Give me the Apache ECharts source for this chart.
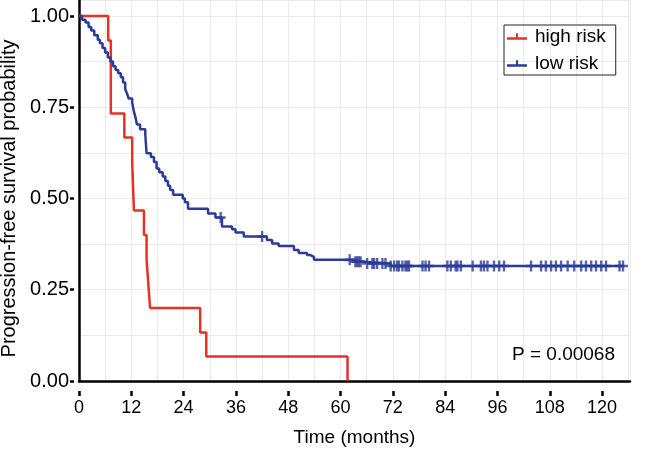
<!DOCTYPE html>
<html><head><meta charset="utf-8">
<script src="https://cdn.jsdelivr.net/npm/echarts@6/dist/echarts.min.js"></script>
<style>html,body{margin:0;padding:0;background:#fff}#c{width:646px;height:452px}</style>
</head><body><div id="c"></div>
<script>
// ---- data ----
const xTicks = [0, 12, 24, 36, 48, 60, 72, 84, 96, 108, 120];
const yTicks = [0, 0.25, 0.5, 0.75, 1];
const seriesNames = ['high risk', 'low risk'];
const pValueText = 'P = 0.00068';

// [time (months), survival probability]
const highRisk = [
  [0, 1], [6.7, 0.933], [7.3, 0.733], [10.4, 0.667], [12.2, 0.6], [12.6, 0.467],
  [14.9, 0.4], [15.5, 0.333], [15.9, 0.267], [16.3, 0.2], [27.8, 0.133],
  [29.2, 0.067], [61.6, 0]
];
const lowRisk = [
  [0, 1], [0.7, 0.99], [1.5, 0.982], [2.2, 0.97], [2.8, 0.96], [3.5, 0.947],
  [4.3, 0.935], [4.8, 0.925], [5.4, 0.912], [6.0, 0.9], [6.6, 0.886], [7.2, 0.875],
  [7.8, 0.862], [8.4, 0.852], [9.0, 0.843], [9.6, 0.832], [10.1, 0.818], [10.6, 0.8],
  [11.0, 0.788], [11.4, 0.774], [12.2, 0.762], [12.6, 0.738], [13.0, 0.72], [13.3, 0.703],
  [14.0, 0.69], [15.2, 0.676], [15.5, 0.624], [16.5, 0.614], [17.2, 0.6], [17.8, 0.582],
  [18.4, 0.572], [19.2, 0.56], [19.8, 0.548], [20.4, 0.535], [20.9, 0.523], [21.6, 0.51],
  [23.8, 0.5], [24.3, 0.49], [25.0, 0.472], [29.6, 0.459], [31.3, 0.448], [32.8, 0.423],
  [35.1, 0.416], [35.9, 0.407], [37.8, 0.396], [43.1, 0.386], [44.3, 0.377], [45.8, 0.37],
  [49.3, 0.359], [50.4, 0.351], [52.3, 0.345], [53.1, 0.34], [53.9, 0.332], [62.9, 0.327],
  [64.8, 0.322], [71.5, 0.315], [124.8, 0.315]
];
const lowRiskCensored = [
  32.5, 42.0, 62.1, 63.4, 63.8, 64.2, 64.6, 66.1, 67.3, 67.7, 68.4, 69.6, 70.3, 71.5,
  72.3, 73.0, 73.4, 74.2, 74.9, 75.3, 75.7, 78.8, 79.5, 80.3, 84.5, 85.3, 86.4, 86.8,
  87.6, 90.3, 92.2, 92.9, 93.7, 95.2, 96.4, 97.5, 103.7, 106.0, 107.1, 108.3, 109.4,
  110.6, 112.1, 113.6, 115.2, 116.3, 117.5, 118.6, 119.8, 120.9, 124.0, 124.8
];

// ---- chart ----
const RED = '#e53227', BLUE = '#2b3b99';
const FONT = '"Liberation Sans", Arial, sans-serif';
function survAt(curve, t) {
  let s = curve[0][1];
  for (const p of curve) { if (p[0] <= t) s = p[1]; }
  return s;
}
const censorPts = lowRiskCensored.map(t => [t, survAt(lowRisk, t)]);
const PLUS = 'path://M3.8,0 L6.2,0 L6.2,3.8 L10,3.8 L10,6.2 L6.2,6.2 L6.2,10 L3.8,10 L3.8,6.2 L0,6.2 L0,3.8 L3.8,3.8 Z';
const LEGEND_ICON = 'path://M0,9 L20,9 L20,11.5 L0,11.5 Z M9,5 L11,5 L11,9 L9,9 Z';
const XMAX = 126.4, YMAX = 1.0438;
const HIDDEN_LINE = {show: true, onZero: false, lineStyle: {color: 'rgba(0,0,0,0)', width: 0}};

const chart = echarts.init(document.getElementById('c'), null, {renderer: 'canvas'});
chart.setOption({
  animation: false,
  backgroundColor: '#fff',
  textStyle: {fontFamily: FONT},
  grid: {left: 79, right: 16, top: 0, bottom: 71, containLabel: false, outerBoundsMode: 'none'},
  title: {
    text: pValueText, left: 507, top: 340,
    textStyle: {fontSize: 19, fontWeight: 'normal', color: '#000', fontFamily: FONT}
  },
  legend: {
    data: seriesNames.map(n => ({name: n, icon: LEGEND_ICON})),
    orient: 'vertical', left: 504, top: 25,
    itemWidth: 20, itemHeight: 19, itemGap: 8,
    padding: [2, 10, 2, 3],
    borderColor: '#222', borderWidth: 1,
    textStyle: {fontSize: 19, color: '#000', fontFamily: FONT, padding: [0, 0, 0, 3]}
  },
  xAxis: [
    {
      type: 'value', min: 0, max: XMAX, interval: 6,
      axisLine: {show: true, onZero: false, lineStyle: {color: '#000', width: 2.5}},
      axisTick: {show: false}, axisLabel: {show: false},
      splitLine: {show: true, lineStyle: {color: '#ebebeb', width: 1}}
    },
    {
      type: 'value', min: 0, max: XMAX, position: 'bottom', offset: 10,
      axisLine: HIDDEN_LINE,
      axisTick: {show: true, inside: false, customValues: xTicks, length: 5,
                 lineStyle: {color: '#000', width: 2.5}},
      axisLabel: {customValues: xTicks, margin: 8, fontSize: 18, color: '#000', fontFamily: FONT},
      splitLine: {show: false},
      name: 'Time (months)', nameLocation: 'middle', nameGap: 37,
      nameTextStyle: {fontSize: 19, color: '#000', fontFamily: FONT}
    }
  ],
  yAxis: [
    {
      type: 'value', min: 0, max: YMAX, interval: 0.125,
      axisLine: {show: true, onZero: false, lineStyle: {color: '#000', width: 2.5}},
      axisTick: {show: false}, axisLabel: {show: false},
      splitLine: {show: true, lineStyle: {color: '#ebebeb', width: 1}}
    },
    {
      type: 'value', min: 0, max: YMAX, position: 'left', offset: 5,
      axisLine: HIDDEN_LINE,
      axisTick: {show: true, inside: false, customValues: yTicks, length: 4,
                 lineStyle: {color: '#000', width: 2.5}},
      axisLabel: {customValues: yTicks, margin: 5, fontSize: 20, color: '#000', fontFamily: FONT,
                  formatter: v => v.toFixed(2)},
      splitLine: {show: false},
      name: 'Progression-free survival probability', nameLocation: 'middle', nameGap: 55,
      nameRotate: 90,
      nameTextStyle: {fontSize: 20, color: '#000', fontFamily: FONT, padding: [0, 16, 0, 0]}
    }
  ],
  series: [
    {
      name: seriesNames[0], type: 'line', step: 'end', data: highRisk,
      xAxisIndex: 0, yAxisIndex: 0, showSymbol: false, symbol: 'none',
      color: RED, lineStyle: {color: RED, width: 2.5}, z: 3
    },
    {
      name: seriesNames[1], type: 'line', step: 'end', data: lowRisk,
      xAxisIndex: 0, yAxisIndex: 0, showSymbol: false, symbol: 'none',
      color: BLUE, lineStyle: {color: BLUE, width: 2.5}, z: 4
    },
    {
      name: 'low risk censored', type: 'scatter', data: censorPts,
      xAxisIndex: 0, yAxisIndex: 0, symbol: PLUS, symbolSize: [10, 11],
      itemStyle: {color: BLUE}, z: 5
    }
  ]
});
</script>
</body></html>
